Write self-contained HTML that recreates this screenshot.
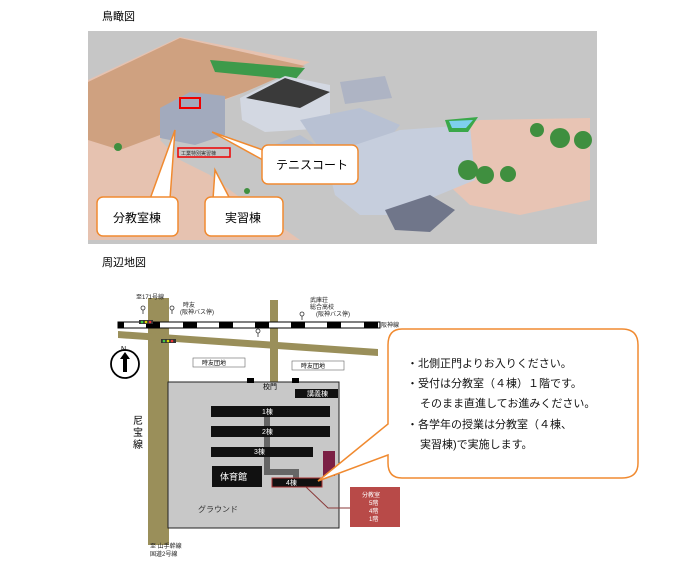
<!DOCTYPE html>
<html><head><meta charset="utf-8"><style>
body{margin:0;background:#fff;width:675px;height:567px;overflow:hidden;font-family:"Liberation Sans","Noto Sans CJK JP",sans-serif}
</style></head><body>
<svg width="675" height="567" viewBox="0 0 675 567" xmlns="http://www.w3.org/2000/svg" font-family="Liberation Sans, Noto Sans CJK JP, sans-serif">
<text x="102" y="20" font-size="11" fill="#000">鳥瞰図</text>
<!-- aerial image -->
<rect x="88" y="31" width="509" height="213" fill="#c6c6c6"/>
<polygon points="88,80 180,37 310,62 250,90 200,110 160,140 180,160 210,175 250,205 300,240 88,240" fill="#e6c2b0"/>
<polygon points="88,82 180,38 305,66 245,92 200,108 160,135 120,150 88,140" fill="#cfa180"/>
<polygon points="210,60 305,68 295,80 215,72" fill="#3d9a4a"/>
<polygon points="400,140 480,120 590,118 590,200 520,215 470,205" fill="#e8c4b4"/>
<!-- buildings -->
<polygon points="160,108 190,92 225,96 225,135 195,145 160,138" fill="#a2aabd"/>
<polygon points="240,98 285,76 330,85 330,128 265,132 242,120" fill="#d3d8e2"/>
<polygon points="246,98 285,78 330,92 300,108" fill="#3a3a3a"/>
<polygon points="340,82 385,76 392,98 345,104" fill="#aeb4c4"/>
<polygon points="300,120 360,108 400,125 380,150 320,150" fill="#b8c1d3"/>
<polygon points="325,155 400,130 470,125 475,180 390,215 360,215 335,195" fill="#c6cedd"/>
<polygon points="260,150 300,135 340,160 300,175" fill="#b6bfd0"/>
<polygon points="385,210 430,195 455,210 430,232 395,230" fill="#70768a"/>
<polygon points="445,120 478,117 468,132 449,132" fill="#3aa84a"/>
<polygon points="449,121 473,120 466,128 452,128" fill="#7ed0ee"/>
<circle cx="560" cy="138" r="10" fill="#3f8f3f"/><circle cx="583" cy="140" r="9" fill="#3f8f3f"/><circle cx="537" cy="130" r="7" fill="#3f8f3f"/>
<circle cx="468" cy="170" r="10" fill="#3f8f3f"/><circle cx="485" cy="175" r="9" fill="#3f8f3f"/><circle cx="508" cy="174" r="8" fill="#3f8f3f"/>
<circle cx="118" cy="147" r="4" fill="#3f8f3f"/><circle cx="247" cy="191" r="3" fill="#3f8f3f"/>
<rect x="180" y="98" width="20" height="10" fill="none" stroke="#e00" stroke-width="2"/>
<rect x="178" y="148" width="52" height="9" fill="none" stroke="#e00" stroke-width="1.5"/>
<text x="181" y="155" font-size="5" fill="#333">工業特別実習棟</text>
<!-- callouts top -->
<g stroke="#f08a30" stroke-width="1.5" fill="#fff">
<polygon points="150,199 170,199 175,130 "/>
<polygon points="213,199 230,199 215,170"/>
<polygon points="263,160 263,150 212,132"/>
<rect x="97" y="197" width="81" height="39" rx="6"/>
<rect x="205" y="197" width="78" height="39" rx="6"/>
<rect x="262" y="145" width="96" height="39" rx="6"/>
</g>
<text x="113" y="222" font-size="12">分教室棟</text>
<text x="225" y="222" font-size="12">実習棟</text>
<text x="276" y="169" font-size="12">テニスコート</text>
<text x="102" y="266" font-size="11">周辺地図</text>
<!-- map -->
<g fill="#9a8f5a">
<rect x="148" y="298" width="21" height="247"/>
<rect x="270" y="300" width="8" height="84"/>
<polygon points="118,331 378,349 378,356 118,338"/>
</g>
<rect x="118" y="322" width="262" height="6" fill="#fff" stroke="#000" stroke-width="1"/>
<g fill="#000"><rect x="118" y="322" width="6" height="6"/><rect x="146" y="322" width="14" height="6"/><rect x="183" y="322" width="14" height="6"/><rect x="219" y="322" width="14" height="6"/><rect x="255" y="322" width="14" height="6"/><rect x="291" y="322" width="14" height="6"/><rect x="327" y="322" width="14" height="6"/><rect x="364" y="322" width="14" height="6"/></g>
<rect x="139" y="320" width="14" height="4" fill="#333"/><circle cx="142" cy="322" r="1.3" fill="#4c4"/><circle cx="146" cy="322" r="1.3" fill="#dd0"/><circle cx="150" cy="322" r="1.3" fill="#e33"/>
<rect x="161" y="339" width="15" height="4" fill="#333"/><circle cx="164" cy="341" r="1.3" fill="#4c4"/><circle cx="168" cy="341" r="1.3" fill="#dd0"/><circle cx="172" cy="341" r="1.3" fill="#e33"/>
<g font-size="6" fill="#222">
<text x="136" y="299">至171号線</text>
<text x="183" y="307">時友</text><text x="180" y="314">(阪神バス停)</text>
<text x="310" y="302">武庫荘</text><text x="310" y="309">総合高校</text><text x="316" y="316">(阪神バス停)</text>
<text x="381" y="327">阪神線</text>
<text x="150" y="548">至 山手幹線</text><text x="150" y="556">国道2号線</text>
</g>
<g stroke="#333" fill="none" stroke-width="0.8"><circle cx="143" cy="308" r="2"/><line x1="143" y1="310" x2="143" y2="314"/><circle cx="172" cy="308" r="2"/><line x1="172" y1="310" x2="172" y2="314"/><circle cx="302" cy="314" r="2"/><line x1="302" y1="316" x2="302" y2="320"/><circle cx="258" cy="331" r="2"/><line x1="258" y1="333" x2="258" y2="337"/></g>
<rect x="193" y="358" width="52" height="9" fill="#fff" stroke="#666" stroke-width="0.6"/><text x="202" y="365" font-size="6">時友団地</text>
<rect x="292" y="361" width="52" height="9" fill="#fff" stroke="#666" stroke-width="0.6"/><text x="301" y="368" font-size="6">時友団地</text>
<circle cx="125" cy="364" r="14" fill="#fff" stroke="#000" stroke-width="1.8"/>
<rect x="123" y="358" width="4" height="14" fill="#000"/><polygon points="120,359 125,352 130,359" fill="#000"/>
<text x="121" y="351" font-size="7">N</text>
<text x="133" y="424" font-size="10">尼</text><text x="133" y="436" font-size="10">宝</text><text x="133" y="448" font-size="10">線</text>
<rect x="168" y="382" width="171" height="146" fill="#c8c8c8" stroke="#222" stroke-width="1"/>
<rect x="247" y="378" width="7" height="5" fill="#000"/><rect x="292" y="378" width="7" height="5" fill="#000"/>
<text x="263" y="389" font-size="7">校門</text>
<path d="M267,417 V472 H296 V479" stroke="#666" stroke-width="6" fill="none"/>
<g fill="#111"><rect x="295" y="389" width="43" height="9"/><rect x="211" y="406" width="119" height="11"/><rect x="211" y="426" width="119" height="11"/><rect x="211" y="447" width="102" height="10"/><rect x="212" y="466" width="50" height="21"/></g>
<rect x="272" y="478" width="50" height="9" fill="#111" stroke="#a33" stroke-width="1"/>
<rect x="323" y="451" width="12" height="25" fill="#7b2045"/>
<g fill="#fff" font-size="7"><text x="307" y="396">講義棟</text><text x="262" y="414">1棟</text><text x="262" y="434">2棟</text><text x="254" y="454">3棟</text><text x="286" y="485">4棟</text></g>
<text x="220" y="480" font-size="9" fill="#fff">体育館</text>
<text x="198" y="512" font-size="8" fill="#333">グラウンド</text>
<path d="M306,487 L328,508 H350" stroke="#8a3a3a" stroke-width="1" fill="none"/>
<rect x="350" y="487" width="50" height="40" fill="#b84a48"/>
<g fill="#fff" font-size="6"><text x="362" y="497">分教室</text><text x="369" y="505">5階</text><text x="369" y="513">4階</text><text x="369" y="521">1階</text></g>
<!-- big callout -->
<path d="M402,329 H622 Q638,329 638,345 V463 Q638,478 622,478 H402 Q388,478 388,463 V455 L318,481 L388,424 V345 Q388,329 402,329 Z" fill="#fff" stroke="#f08a30" stroke-width="1.5"/>
<g font-size="11" fill="#111">
<text x="407" y="367">・北側正門よりお入りください。</text>
<text x="407" y="387">・受付は分教室（４棟）１階です。</text>
<text x="420" y="407">そのまま直進してお進みください。</text>
<text x="407" y="428">・各学年の授業は分教室（４棟、</text>
<text x="420" y="448">実習棟)で実施します。</text>
</g>
</svg>
</body></html>
